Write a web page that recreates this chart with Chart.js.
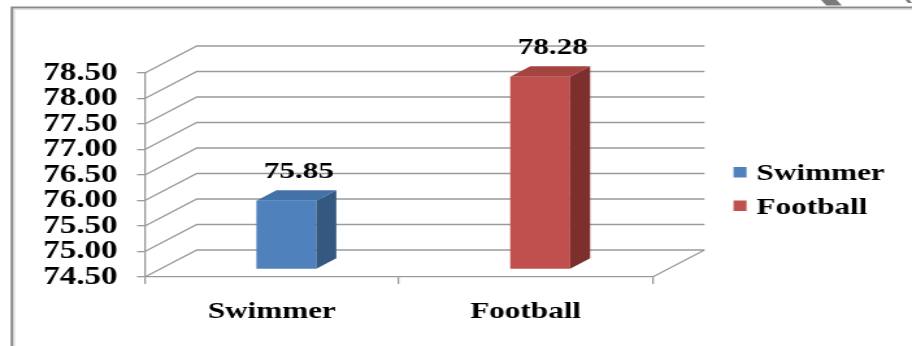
<!DOCTYPE html>
<html><head><meta charset="utf-8">
<script src="https://cdn.jsdelivr.net/npm/chart.js@4.4.0/dist/chart.umd.min.js"></script>
<style>
html,body{margin:0;padding:0;background:#fff;overflow:hidden;width:912px;height:346px;}
#wrap{width:702px;height:346px;transform:scaleX(1.2991453);transform-origin:0 0;}
canvas{display:block;}
</style></head><body>
<div id="wrap"><canvas id="c" width="702" height="346"></canvas></div>
<script>
// ---- data ----
const categories = ['Swimmer', 'Football'];
const values = [75.85, 78.28];
const frontColors = ['#4F81BD', '#C0504D'];
const sideColors = ['#34587F', '#7C2F2D'];
const topColors = ['#4272A8', '#A4433F'];
const yMin = 74.5, yMax = 78.5, yStep = 0.5;

// ---- 3D geometry (chart space) ----
const WALL_DX = 40, WALL_DY = -27;     // depth of the back wall
const BAR_DX0 = 11.2, BAR_DY0 = -7.5;  // bar front plane offset
const BAR_DX = 15.4, BAR_DY = -10.5;   // bar depth
const GRID = '#9a9a9a';
const SERIF = "'Liberation Serif', 'Times New Roman', serif";
const FONT = {family: SERIF, size: 24, weight: 'bold'};
const TICKFONT = {family: SERIF, size: 25.5, weight: 'bold'};
const fontStr = 'bold 24px "Liberation Serif", "Times New Roman", serif';

const frame = {
  id: 'frame',
  beforeDraw(chart) {
    const ctx = chart.ctx;
    ctx.save();
    ctx.fillStyle = '#fff';
    ctx.fillRect(0, 0, chart.width, chart.height);
    ctx.strokeStyle = '#8a8a8a';
    ctx.lineWidth = 2;
    ctx.beginPath();
    ctx.moveTo(9.2, 346); ctx.lineTo(9.2, 7.5); ctx.lineTo(chart.width, 7.5);
    ctx.stroke();
    ctx.strokeStyle = '#d0d0d0';
    ctx.lineWidth = 1;
    ctx.beginPath();
    ctx.moveTo(10.9, 346); ctx.lineTo(10.9, 9.2); ctx.lineTo(chart.width, 9.2);
    ctx.stroke();
    // small selection handle marks at top right
    ctx.fillStyle = '#7a7a7a';
    ctx.beginPath();
    ctx.moveTo(632, 0); ctx.lineTo(644, 0); ctx.lineTo(648, 5.5); ctx.lineTo(636, 5.5); ctx.closePath();
    ctx.fill();
    ctx.beginPath();
    ctx.moveTo(697, 0); ctx.lineTo(700, 0); ctx.lineTo(702, 3); ctx.lineTo(699, 3); ctx.closePath();
    ctx.fill();
    ctx.restore();
  }
};

const walls = {
  id: 'walls',
  beforeDatasetsDraw(chart) {
    const ctx = chart.ctx, ys = chart.scales.y, ca = chart.chartArea;
    ctx.save();
    ctx.strokeStyle = GRID;
    ctx.lineWidth = 1.3;
    ctx.beginPath();
    ys.ticks.forEach(t => {
      const py = ys.getPixelForValue(t.value);
      ctx.moveTo(ca.left, py);
      ctx.lineTo(ca.left + WALL_DX, py + WALL_DY);
      ctx.lineTo(ca.right + WALL_DX, py + WALL_DY);
    });
    ctx.moveTo(ca.right, ca.bottom);
    ctx.lineTo(ca.right + WALL_DX, ca.bottom + WALL_DY);
    ctx.stroke();
    ctx.restore();
  },
  beforeDatasetDraw(chart) {
    chart.ctx.save();
    chart.ctx.translate(BAR_DX0, BAR_DY0);
  },
  afterDatasetDraw(chart, args) {
    const ctx = chart.ctx;
    args.meta.data.forEach((el, i) => {
      const p = el.getProps(['x', 'y', 'base', 'width'], true);
      const l = p.x - p.width / 2, r = p.x + p.width / 2;
      // side face
      ctx.fillStyle = sideColors[i];
      ctx.beginPath();
      ctx.moveTo(r, p.y); ctx.lineTo(r + BAR_DX, p.y + BAR_DY);
      ctx.lineTo(r + BAR_DX, p.base + BAR_DY); ctx.lineTo(r, p.base);
      ctx.closePath(); ctx.fill();
      // top face
      ctx.fillStyle = topColors[i];
      ctx.beginPath();
      ctx.moveTo(l, p.y); ctx.lineTo(l + BAR_DX, p.y + BAR_DY);
      ctx.lineTo(r + BAR_DX, p.y + BAR_DY); ctx.lineTo(r, p.y);
      ctx.closePath(); ctx.fill();
    });
    ctx.restore();
  },
  afterDatasetsDraw(chart) {
    const ctx = chart.ctx, ca = chart.chartArea;
    const meta = chart.getDatasetMeta(0);
    ctx.save();
    ctx.font = fontStr;
    ctx.fillStyle = '#000';
    ctx.textAlign = 'center';
    ctx.textBaseline = 'alphabetic';
    meta.data.forEach((el, i) => {
      const p = el.getProps(['x', 'y'], true);
      ctx.fillText(values[i].toFixed(2), p.x + BAR_DX0 + BAR_DX / 2 + 2, p.y + BAR_DY0 + BAR_DY - 12);
    });
    // legend
    const lx = ca.right + 62.3;
    const ly = [172, 205.5];
    categories.forEach((c, i) => {
      ctx.fillStyle = frontColors[i];
      ctx.fillRect(lx, ly[i] - 5, 10, 10.5);
      ctx.fillStyle = '#000';
      ctx.textAlign = 'left';
      ctx.fillText(c, lx + 17.7, ly[i] + 8);
    });
    ctx.restore();
  }
};

new Chart(document.getElementById('c'), {
  type: 'bar',
  data: {
    labels: categories,
    datasets: [{
      label: 'Values',
      data: values,
      base: yMin,
      backgroundColor: frontColors,
      borderWidth: 0,
      barPercentage: 0.236,
      categoryPercentage: 1,
      clip: false
    }]
  },
  options: {
    responsive: false,
    animation: false,
    events: [],
    layout: {padding: {top: 73, right: 199.7, left: 0, bottom: 0}},
    plugins: {legend: {display: false}, tooltip: {enabled: false}},
    scales: {
      x: {
        offset: true,
        ticks: {font: FONT, color: '#000', padding: 13},
        grid: {drawOnChartArea: false, drawTicks: true, tickLength: 7, color: GRID, lineWidth: 1.3, offset: true},
        border: {display: true, color: GRID, width: 1.3},
        afterFit(s) { s.height = 69; }
      },
      y: {
        min: yMin, max: yMax,
        ticks: {stepSize: yStep, autoSkip: false, font: TICKFONT, color: '#000', padding: 15, callback: v => Number(v).toFixed(2)},
        grid: {drawOnChartArea: false, drawTicks: true, tickLength: 6, color: GRID, lineWidth: 1.3},
        border: {display: true, color: GRID, width: 1.3},
        afterFit(s) { s.width = 111.5; }
      }
    }
  },
  plugins: [frame, walls]
});
</script>
</body></html>
